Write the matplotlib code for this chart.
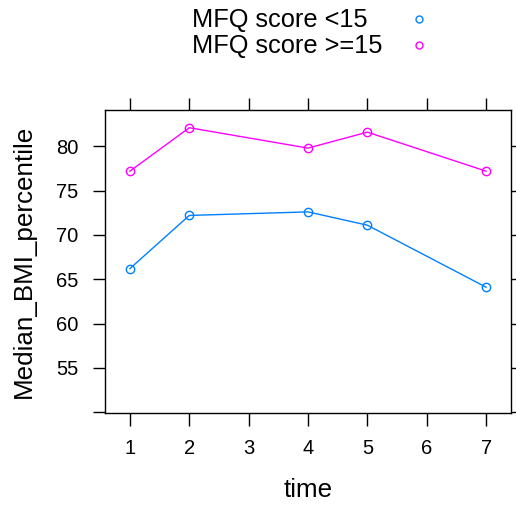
import matplotlib
matplotlib.use("Agg")
import matplotlib.pyplot as plt
from matplotlib.lines import Line2D

plt.rcParams['font.family'] = ['Liberation Sans', 'DejaVu Sans']

# Data
time = [1, 2, 4, 5, 7]
mfq_low = [66.2, 72.2, 72.6, 71.1, 64.1]     # MFQ score <15
mfq_high = [77.2, 82.1, 79.8, 81.6, 77.2]    # MFQ score >=15
series_labels = ["MFQ score <15", "MFQ score >=15"]
series_colors = ["#0080ff", "#ff00ff"]
x_ticks = [1, 2, 3, 4, 5, 6, 7]
y_ticks = [50, 55, 60, 65, 70, 75, 80]
y_ticklabels = ["", "55", "60", "65", "70", "75", "80"]

W, H = 516, 509
fig = plt.figure(figsize=(W/100, H/100), dpi=100)
ax = fig.add_axes([105/W, 1 - 413/H, (511-105)/W, (413-110)/H])

for vals, lab, col in zip([mfq_low, mfq_high], series_labels, series_colors):
    ax.plot(time, vals, color=col, lw=1.0, marker='o', markersize=6,
            markerfacecolor='none', markeredgewidth=1.0, label=lab)

ax.set_xlim(0.58, 7.42)
ax.set_ylim(49.9, 84.1)
ax.set_xticks(x_ticks)
ax.set_yticks(y_ticks)
ax.set_yticklabels(y_ticklabels)

ax.tick_params(axis='both', which='both', direction='out', length=9, width=1.0,
               labelsize=14.5, top=True, right=True, labeltop=False, labelright=False,
               color='black')
ax.tick_params(axis='x', pad=10)
ax.tick_params(axis='y', pad=10)
for s in ax.spines.values():
    s.set_linewidth(1.0)
    s.set_color('black')

ax.set_xlabel("time", fontsize=18.7)
ax.set_ylabel("Median_BMI_percentile", fontsize=18.7)
ax.xaxis.set_label_coords(0.5, -(478 - 413) / 303)
ax.yaxis.set_label_coords(-(105 - 36) / 406, 0.5)

# key at top: left-aligned text, marker column to the right
key_y = [20, 46]
for lab, col, yy in zip(series_labels, series_colors, key_y):
    fig.text(192/W, 1 - yy/H, lab, fontsize=18.3, ha='left', va='center')
    fig.add_artist(Line2D([419/W], [1 - (yy - 1)/H], transform=fig.transFigure,
                          marker='o', markersize=5, markerfacecolor='none',
                          markeredgecolor=col, markeredgewidth=1.0, linestyle='none'))

fig.savefig("out.png", dpi=100)
